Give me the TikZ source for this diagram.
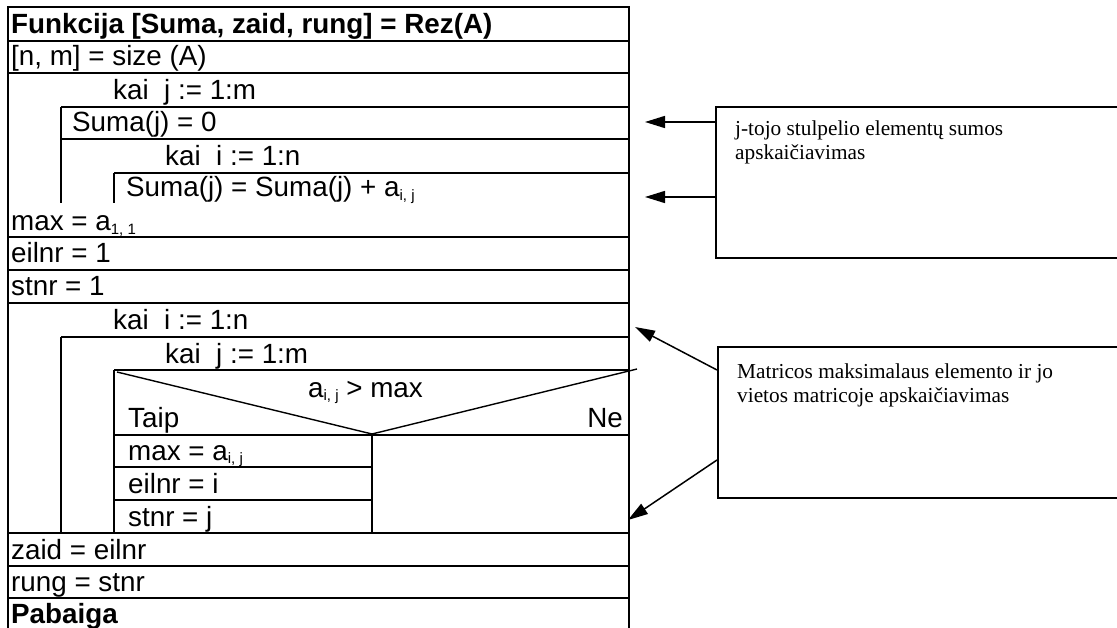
\documentclass[tikz,border=0pt]{standalone}
\usepackage{fontspec}
\setmainfont{Liberation Sans}
\newfontfamily\notefont{Liberation Serif}
\usetikzlibrary{arrows.meta}
\newcommand{\sbs}[1]{\raisebox{-0.14em}{\fontsize{15}{15}\selectfont #1}}
\begin{document}
\begin{tikzpicture}[x=1pt,y=-1pt,
  txt/.style={anchor=base west, inner sep=0pt, font=\fontsize{27.8}{30}\selectfont},
  boldtxt/.style={anchor=base west, inner sep=0pt, font=\fontsize{27.8}{30}\selectfont\bfseries},
  tl/.style={line width=2pt},
  nl/.style={line width=1.4pt},
  notebox/.style={draw, line width=1.8pt, anchor=north west, inner sep=0pt, minimum width=460pt},
  notetxt/.style={anchor=north west, inner sep=0pt, align=left, font=\notefont\fontsize{21.3}{24}\selectfont},
  arr/.style={line width=1.5pt, -{Triangle[length=20pt,width=12pt]}}
]
\useasboundingbox (0,0) rectangle (1117,628);
\clip (0,0) rectangle (1117,628);

% outer frame
\draw[tl] (8,640) -- (8,7) -- (629,7) -- (629,640);
% full-width rows
\foreach \yy in {41,73,237,303,533,566} \draw[tl] (8,\yy) -- (629,\yy);
\foreach \yy in {270,598} \draw[nl] (8,\yy) -- (629,\yy);
% first loop
\draw[tl] (61,107) -- (629,107);
\draw[nl] (61,139) -- (629,139);
\draw[tl] (114,173) -- (629,173);
\draw[nl] (61,107) -- (61,203);
\draw[nl] (114,173) -- (114,203);
% second loop
\draw[nl] (61,337) -- (629,337);
\draw[tl] (114,370) -- (629,370);
\draw[tl] (114,435) -- (629,435);
\draw[nl] (61,337) -- (61,533);
\draw[nl] (114,370) -- (114,533);
\draw[nl] (372,435) -- (372,533);
\draw[tl] (114,467) -- (372,467);
\draw[tl] (114,500) -- (372,500);
\draw[nl] (117,372) -- (372,434) -- (637,369);

% texts
\node[boldtxt] (t1) at (11,34) {Funkcija [Suma, zaid, rung] = Rez(A)};
\node[txt] (t2) at (11,66) {[n, m] = size (A)};
\node[txt] (t3) at (113,100) {kai\ \ j := 1:m};
\node[txt] (t4) at (72,132) {Suma(j) = 0};
\node[txt] (t5) at (165,166) {kai\ \ i := 1:n};
\node[txt] (t6) at (126,197) {Suma(j) = Suma(j) + a\sbs{i, j}};
\node[txt] (t7) at (11,231) {max = a\sbs{1, 1}};
\node[txt] (t8) at (11,263) {eilnr = 1};
\node[txt] (t9) at (11,296) {stnr = 1};
\node[txt] (t10) at (113,330) {kai\ \ i := 1:n};
\node[txt] (t11) at (165,363) {kai\ \ j := 1:m};
\node[txt] (t12) at (308,397) {a\sbs{i, j} > max};
\node[txt] (t13) at (128,428) {Taip};
\node[txt, anchor=base east] (t14) at (623,428) {Ne};
\node[txt] (t15) at (128,460) {max = a\sbs{i, j}};
\node[txt] (t16) at (128,493) {eilnr = i};
\node[txt] (t17) at (128,526) {stnr = j};
\node[txt] (t18) at (11,559) {zaid = eilnr};
\node[txt] (t19) at (11,591) {rung = stnr};
\node[boldtxt] (t20) at (11,623) {Pabaiga};

% notes
\node[notebox, minimum height=151pt] (nb1) at (715,106) {};
\node[notetxt] (nt1) at (735,121) {j-tojo stulpelio elementų sumos\\apskaičiavimas};
\node[notebox, minimum height=151pt] (nb2) at (717,346) {};
\node[notetxt] (nt2) at (737,364) {Matricos maksimalaus elemento ir jo\\vietos matricoje apskaičiavimas};

\coordinate (e1) at (645,122);
\coordinate (e2) at (645,197);
\coordinate (e3) at (635,327);
\coordinate (e4) at (628,520);
\draw[arr] ([yshift=-16pt]nb1.north west) -- (e1);
\draw[arr] ([yshift=-91pt]nb1.north west) -- (e2);
\draw[arr] ([yshift=-24pt]nb2.north west) -- (e3);
\draw[arr] ([yshift=-114pt]nb2.north west) -- (e4);
\end{tikzpicture}
\end{document}
